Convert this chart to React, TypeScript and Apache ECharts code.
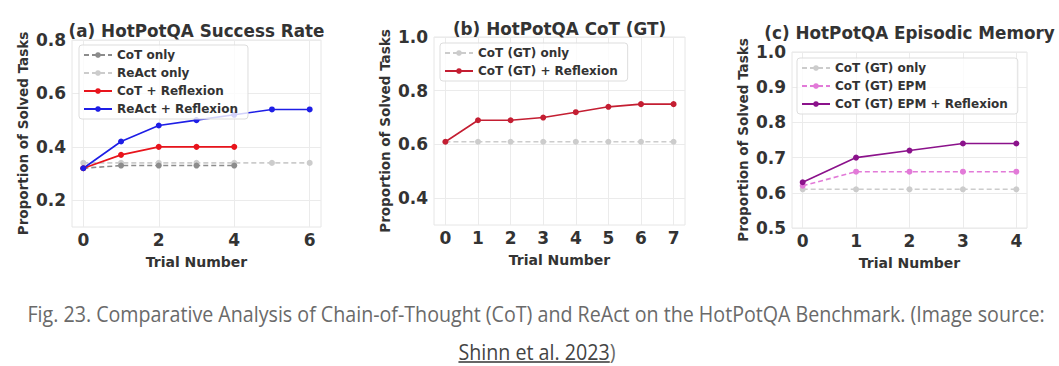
import React, { useEffect, useRef } from "react";
import * as echarts from "echarts";

// ---- data ----
const trialsA = [0, 1, 2, 3, 4, 5, 6];
const cotOnlyA = [0.32, 0.33, 0.33, 0.33, 0.33];
const reactOnlyA = [0.34, 0.34, 0.34, 0.34, 0.34, 0.34, 0.34];
const cotReflexionA = [0.32, 0.37, 0.4, 0.4, 0.4];
const reactReflexionA = [0.32, 0.42, 0.48, 0.5, 0.52, 0.54, 0.54];

const trialsB = [0, 1, 2, 3, 4, 5, 6, 7];
const cotGtOnlyB = [0.61, 0.61, 0.61, 0.61, 0.61, 0.61, 0.61, 0.61];
const cotGtReflexionB = [0.61, 0.69, 0.69, 0.7, 0.72, 0.74, 0.75, 0.75];

const trialsC = [0, 1, 2, 3, 4];
const cotGtOnlyC = [0.61, 0.61, 0.61, 0.61, 0.61];
const cotGtEpmC = [0.62, 0.66, 0.66, 0.66, 0.66];
const cotGtEpmReflexionC = [0.63, 0.7, 0.72, 0.74, 0.74];

const xTicksA = [0, 2, 4, 6];
const xTicksB = [0, 1, 2, 3, 4, 5, 6, 7];
const xTicksC = [0, 1, 2, 3, 4];
const yTicksA = [0.2, 0.4, 0.6, 0.8];
const yTicksB = [0.4, 0.6, 0.8, 1.0];
const yTicksC = [0.5, 0.6, 0.7, 0.8, 0.9, 1.0];

const titles = [
  "(a) HotPotQA Success Rate",
  "(b) HotPotQA CoT (GT)",
  "(c) HotPotQA Episodic Memory",
];
const captionLine1 =
  "Fig. 23. Comparative Analysis of Chain-of-Thought (CoT) and ReAct on the HotPotQA Benchmark. (Image source:";
const captionLink = "Shinn et al. 2023";
const captionTail = ")";

// ---- helpers ----
const zip = (xs: number[], ys: number[]) => ys.map((y, i) => [xs[i], y]);
const FONT = "DejaVu Sans";
const DARK = "#333333";
const LIGHT = "#cccccc";

function measure(text: string, font: string) {
  const c = document.createElement("canvas").getContext("2d")!;
  c.font = font;
  return c.measureText(text).width;
}

const grids = [
  { left: 72, top: 40, width: 249, height: 187 },
  { left: 434, top: 37, width: 251, height: 188 },
  { left: 792, top: 52, width: 235, height: 176 },
];

function xAxis(idx: number, min: number, max: number, ticks: number[]) {
  return {
    type: "value",
    gridIndex: idx,
    min,
    max,
    name: "Trial Number",
    nameLocation: "middle",
    nameGap: 28,
    nameTextStyle: { fontFamily: FONT, fontWeight: "bold", fontSize: 14, color: DARK },
    axisLine: { show: false },
    axisTick: { show: false, customValues: ticks },
    axisLabel: {
      customValues: ticks,
      margin: 4,
      fontFamily: FONT,
      fontWeight: "bold",
      fontSize: 17,
      color: DARK,
      formatter: (v: number) => String(Math.round(v)),
    },
    splitLine: { show: true, lineStyle: { color: "#ebebeb", width: 1 } },
  };
}

function yAxis(idx: number, min: number, max: number, ticks: number[]) {
  return {
    type: "value",
    gridIndex: idx,
    min,
    max,
    name: "Proportion of Solved Tasks",
    nameLocation: "middle",
    nameRotate: 90,
    nameGap: 42,
    nameTextStyle: { fontFamily: FONT, fontWeight: "bold", fontSize: 13.5, color: DARK },
    axisLine: { show: false },
    axisTick: { show: false, customValues: ticks },
    axisLabel: {
      customValues: ticks,
      margin: 6,
      fontFamily: FONT,
      fontWeight: "bold",
      fontSize: 17,
      color: DARK,
      formatter: (v: number) => v.toFixed(1),
    },
    splitLine: { show: true, lineStyle: { color: "#ebebeb", width: 1 } },
  };
}

function line(
  name: string,
  idx: number,
  xs: number[],
  ys: number[],
  color: string,
  dashed: boolean,
  z = 3
) {
  return {
    type: "line",
    name,
    xAxisIndex: idx,
    yAxisIndex: idx,
    data: zip(xs, ys),
    symbol: "circle",
    symbolSize: 6,
    showSymbol: true,
    z,
    itemStyle: { color },
    lineStyle: { color, width: 1.6, type: dashed ? [5, 3] : "solid" },
  };
}

function legend(left: number, top: number, names: string[]) {
  return {
    left,
    top,
    orient: "vertical",
    data: names,
    selectedMode: false,
    itemWidth: 28,
    itemHeight: 7,
    itemGap: 4,
    padding: [3, 10, 3, 4],
    backgroundColor: "rgba(255,255,255,0.8)",
    borderColor: "#dddddd",
    borderWidth: 1,
    borderRadius: 3,
    textStyle: {
      fontFamily: FONT,
      fontWeight: "bold",
      fontSize: 12,
      color: DARK,
      lineHeight: 14,
    },
  };
}

export default function App() {
  const ref = useRef<HTMLDivElement>(null);

  useEffect(() => {
    document.body.style.margin = "0";
    if (!ref.current) return;
    const chart = echarts.init(ref.current, null, { renderer: "svg" });

    const capFont = "21px 'Open Sans'";
    const w1 = measure(captionLine1, capFont);
    const s = 1018 / w1;
    const wLink = measure(captionLink, capFont) * s;
    const wTail = measure(captionTail, capFont) * s;
    const line2Left = 537 - (wLink + wTail) / 2;

    const capStyle = (text: string, fill: string, align: string) => ({
      text,
      x: 0,
      y: 0,
      fill,
      fontFamily: "Open Sans",
      fontSize: 21,
      align,
      verticalAlign: "middle",
    });

    const option = {
      animation: false,
      backgroundColor: "#ffffff",
      title: titles.map((t, i) => ({
        text: t,
        left: grids[i].left + grids[i].width / 2,
        textAlign: "center",
        top: [22, 20, 24][i],
        padding: 0,
        textStyle: { fontFamily: FONT, fontWeight: "bold", fontSize: 16.8, color: DARK },
      })),
      grid: grids.map((g) => ({
        ...g,
        show: true,
        borderColor: "#e6e6e6",
        borderWidth: 1,
        backgroundColor: "#ffffff",
        containLabel: false,
      })),
      xAxis: [
        xAxis(0, -0.3, 6.3, xTicksA),
        xAxis(1, -0.35, 7.35, xTicksB),
        xAxis(2, -0.2, 4.2, xTicksC),
      ],
      yAxis: [
        yAxis(0, 0.1, 0.8, yTicksA),
        yAxis(1, 0.3, 1.0, yTicksB),
        yAxis(2, 0.5, 1.0, yTicksC),
      ],
      legend: [
        legend(79, 45, ["CoT only", "ReAct only", "CoT + Reflexion", "ReAct + Reflexion"]),
        legend(440, 43, ["CoT (GT) only", "CoT (GT) + Reflexion"]),
        legend(797, 58, ["CoT (GT) only", "CoT (GT) EPM", "CoT (GT) EPM + Reflexion"]),
      ],
      series: [
        line("ReAct only", 0, trialsA, reactOnlyA, LIGHT, true, 2),
        line("CoT only", 0, trialsA, cotOnlyA, "#8c8c8c", true, 2),
        line("CoT + Reflexion", 0, trialsA, cotReflexionA, "#e8141c", false),
        line("ReAct + Reflexion", 0, trialsA, reactReflexionA, "#1e1ee6", false),
        line("CoT (GT) only", 1, trialsB, cotGtOnlyB, LIGHT, true, 2),
        line("CoT (GT) + Reflexion", 1, trialsB, cotGtReflexionB, "#c41e32", false),
        line("CoT (GT) only", 2, trialsC, cotGtOnlyC, LIGHT, true, 2),
        line("CoT (GT) EPM", 2, trialsC, cotGtEpmC, "#e27ad8", true),
        line("CoT (GT) EPM + Reflexion", 2, trialsC, cotGtEpmReflexionC, "#8b128b", false),
      ],
      graphic: [
        {
          type: "group",
          x: 536,
          y: 314,
          scaleX: s,
          children: [{ type: "text", style: capStyle(captionLine1, "#6a6a6a", "center") }],
        },
        {
          type: "group",
          x: line2Left,
          y: 352,
          scaleX: s,
          children: [
            { type: "text", style: capStyle(captionLink, "#444444", "left") },
            {
              type: "text",
              x: wLink / s,
              style: capStyle(captionTail, "#6a6a6a", "left"),
            },
          ],
        },
        {
          type: "line",
          shape: { x1: line2Left, y1: 362, x2: line2Left + wLink, y2: 362 },
          style: { stroke: "#333333", lineWidth: 1.5 },
        },
      ],
    };

    chart.setOption(option as any);
    return () => chart.dispose();
  }, []);

  return <div ref={ref} style={{ width: 1059, height: 366 }} />;
}
